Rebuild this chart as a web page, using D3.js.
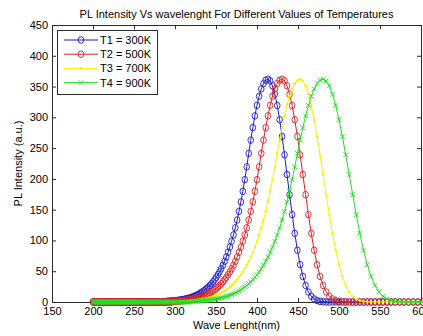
<!DOCTYPE html>
<html><head><meta charset="utf-8">
<script src="https://cdn.jsdelivr.net/npm/d3@7"></script>
<style>html,body{margin:0;padding:0;background:#fff;overflow:hidden}</style>
</head><body>
<svg id="chart" width="423" height="336"></svg>
<script>
// Sample wavelengths (nm), shared by all four series
const wavelengthNm = [
200.0,200.6,201.3,202.0,202.6,203.3,203.9,204.6,205.3,206.0,
206.7,207.4,208.1,208.8,209.5,210.2,210.9,211.6,212.3,213.1,
213.8,214.5,215.3,216.0,216.8,217.5,218.3,219.1,219.9,220.6,
221.4,222.2,223.0,223.8,224.6,225.5,226.3,227.1,227.9,228.8,
229.6,230.5,231.3,232.2,233.1,234.0,234.8,235.7,236.6,237.5,
238.5,239.4,240.3,241.2,242.2,243.1,244.1,245.1,246.0,247.0,
248.0,249.0,250.0,251.0,252.0,253.1,254.1,255.1,256.2,257.3,
258.3,259.4,260.5,261.6,262.7,263.8,265.0,266.1,267.2,268.4,
269.6,270.7,271.9,273.1,274.3,275.6,276.8,278.0,279.3,280.5,
281.8,283.1,284.4,285.7,287.0,288.4,289.7,291.1,292.5,293.8,
295.2,296.7,298.1,299.5,301.0,302.4,303.9,305.4,306.9,308.5,
310.0,311.6,313.1,314.7,316.3,317.9,319.6,321.2,322.9,324.6,
326.3,328.0,329.8,331.6,333.3,335.1,337.0,338.8,340.7,342.5,
344.4,346.4,348.3,350.3,352.3,354.3,356.3,358.4,360.5,362.6,
364.7,366.9,369.0,371.3,373.5,375.8,378.0,380.4,382.7,385.1,
387.5,389.9,392.4,394.9,397.4,400.0,402.6,405.2,407.9,410.6,
413.3,416.1,418.9,421.8,424.7,427.6,430.6,433.6,436.6,439.7,
442.9,446.0,449.3,452.6,455.9,459.3,462.7,466.2,469.7,473.3,
476.9,480.6,484.4,488.2,492.1,496.0,500.0,504.1,508.2,512.4,
516.7,521.0,525.4,529.9,534.5,539.1,543.9,548.7,553.6,558.6,
563.6,568.8,574.1,579.4,584.9,590.5,596.2,601.9];

// T1 = 300K
const t1Intensity = [
0,0,0,0,0,0,0,0,0,0, 0,0,0,0,0,0,0,0,0,0, 0,0,0,0,0,0,0,0,0,0,
0,0,0,0,0,0,0,0,0,0, 0,0,0,0,0,0,0,0,0,0, 0,0,0,0,0,0,0,0,0,0,
0,0,0,0,0,0,0,0,0,0, 0,0,0,0,0,0,0,0,0,0, 0,0,0,0,0,0,0,0,0,0,
0,0,0,0,0,0,
1.0,1.1,1.2,1.3,1.5,1.6,1.8,2.0,2.2,2.4,2.7,3.0,3.3,3.6,4.0,4.4,4.9,5.4,6.0,6.6,
7.3,8.1,9.0,9.9,10.9,12.1,13.4,14.8,16.3,18.0,19.9,22.0,24.3,26.9,29.7,32.8,36.3,40.1,44.3,49.0,
54.1,59.8,66.1,73.1,80.8,89.3,98.7,109.0,120.5,133.2,147.2,162.7,179.8,198.7,219.6,241.4,262.9,283.3,302.4,319.5,
334.2,346.1,354.8,360.2,362.0,359.3,351.1,337.6,319.1,296.1,269.1,239.1,207.1,174.3,142.0,
111.5,84.1,60.6,41.5,26.9,16.3,9.3,4.9,2.3,1.0,0.4,0.1,
0,0,0,0,0,0,0,0,0,0, 0,0,0,0,0,0,0,0,0,0, 0,0,0,0,0];

// T2 = 500K
const t2Intensity = [
0,0,0,0,0,0,0,0,0,0, 0,0,0,0,0,0,0,0,0,0, 0,0,0,0,0,0,0,0,0,0,
0,0,0,0,0,0,0,0,0,0, 0,0,0,0,0,0,0,0,0,0, 0,0,0,0,0,0,0,0,0,0,
0,0,0,0,0,0,0,0,0,0, 0,0,0,0,0,0,0,0,0,0, 0,0,0,0,0,0,0,0,0,0,
0,0,0,0,0,0,0,0,0,0, 0,0,
1.0,1.1,1.2,1.3,1.5,1.6,1.8,2.0,2.2,2.4,2.7,3.0,3.3,3.6,4.0,4.4,4.9,5.4,6.0,6.6,
7.3,8.1,9.0,9.9,10.9,12.1,13.4,14.8,16.3,18.0,19.9,22.0,24.3,26.9,29.7,32.8,36.3,40.1,44.3,49.0,
54.1,59.8,66.1,73.1,80.8,89.3,98.7,109.0,120.5,133.2,147.2,162.7,179.8,198.7,219.6,241.4,262.9,283.3,302.4,319.5,
334.2,346.1,354.8,360.2,362.0,359.3,351.1,337.6,319.1,296.1,269.1,239.1,207.1,174.3,142.0,
111.5,84.1,60.6,41.5,26.9,16.3,9.3,4.9,2.3,1.0,0.4,0.1,
0,0,0,0,0,0,0,0,0,0, 0,0,0,0,0,0,0,0,0];

// T3 = 700K
const t3Intensity = [
0,0,0,0,0,0,0,0,0,0, 0,0,0,0,0,0,0,0,0,0, 0,0,0,0,0,0,0,0,0,0,
0,0,0,0,0,0,0,0,0,0, 0,0,0,0,0,0,0,0,0,0, 0,0,0,0,0,0,0,0,0,0,
0,0,0,0,0,0,0,0,0,0, 0,0,0,0,0,0,0,0,0,0, 0,0,0,0,0,0,0,0,0,0,
0,0,0,0,0,0,0,0,0,0, 0,0,0,0,0,0,0,0,0,
1.0,1.1,1.2,1.3,1.5,1.6,1.8,2.0,2.2,2.4,2.7,3.0,3.3,3.6,4.0,4.4,4.9,5.4,6.0,6.6,
7.3,8.1,9.0,9.9,10.9,12.1,13.4,14.8,16.3,18.0,19.9,22.0,24.3,26.9,29.7,32.8,36.3,40.1,44.3,49.0,
54.1,59.8,66.1,73.1,80.8,89.3,98.7,109.0,120.5,133.2,147.2,162.7,179.8,198.7,219.6,241.4,262.9,283.3,302.4,319.5,
334.2,346.1,354.8,360.2,362.0,359.3,351.1,337.6,319.1,296.1,269.1,239.1,207.1,174.3,142.0,
111.5,84.1,60.6,41.5,26.9,16.3,9.3,4.9,2.3,1.0,0.4,0.1,
0,0,0,0,0,0,0,0,0,0, 0,0];

// T4 = 900K
const t4Intensity = [
0,0,0,0,0,0,0,0,0,0, 0,0,0,0,0,0,0,0,0,0, 0,0,0,0,0,0,0,0,0,0,
0,0,0,0,0,0,0,0,0,0, 0,0,0,0,0,0,0,0,0,0, 0,0,0,0,0,0,0,0,0,0,
0,0,0,0,0,0,0,0,0,0, 0,0,0,0,0,0,0,0,0,0, 0,0,0,0,0,0,0,0,0,0,
0,0,0,0,0,0,0,0,0,0, 0,0,0,0,0,0,0,0,0,0, 0,0,0,0,0,0,0,
1.0,1.1,1.2,1.3,1.5,1.6,1.8,2.0,2.2,2.4,2.7,3.0,3.3,3.6,4.0,4.4,4.9,5.4,6.0,6.6,
7.3,8.1,9.0,9.9,10.9,12.1,13.4,14.8,16.3,18.0,19.9,22.0,24.3,26.9,29.7,32.8,36.3,40.1,44.3,49.0,
54.1,59.8,66.1,73.1,80.8,89.3,98.7,109.0,120.5,133.2,147.2,162.7,179.8,198.7,219.6,241.4,262.9,283.3,302.4,319.5,
334.2,346.1,354.8,360.2,362.0,359.3,351.1,337.6,319.1,296.1,269.1,239.1,207.1,174.3,142.0,
111.5,84.1,60.6,41.5,26.9,16.3,9.3,4.9,2.3,1.0,0.4,0.1,
0,0,0,0];

const seriesNames = ["T1 = 300K", "T2 = 500K", "T3 = 700K", "T4 = 900K"];
const xTickValues = [150, 200, 250, 300, 350, 400, 450, 500, 550, 600];
const yTickValues = [0, 50, 100, 150, 200, 250, 300, 350, 400, 450];
const titleText = "PL Intensity Vs wavelenght For Different Values of Temperatures";
const xLabelText = "Wave Lenght(nm)";
const yLabelText = "PL Intensity (a.u.)";

// ---- styles ----
const seriesColors = ["#1c1cc0", "#dd2222", "#f4f400", "#22dd22"];
const seriesMarkers = ["circle", "circle", "dot", "cross"];
const font = "'Liberation Sans', Arial, Helvetica, sans-serif";
const axisColor = "#2a2a2a";

const box = {left: 52, right: 421, top: 25, bottom: 302};
const x = d3.scaleLinear().domain([150, 600]).range([box.left, box.right]);
const y = d3.scaleLinear().domain([0, 450]).range([box.bottom, box.top]);

const svg = d3.select("#chart");
svg.append("rect").attr("width", 423).attr("height", 336).attr("fill", "#fff");

function styleAxis(g) {
  g.select(".domain").remove();
  g.selectAll(".tick line").attr("stroke", axisColor).attr("stroke-width", 1);
  g.selectAll(".tick text").attr("fill", "#000").style("font-family", font).style("font-size", "11px");
}

svg.append("g").attr("transform", `translate(0,${box.bottom})`)
  .call(d3.axisBottom(x).tickValues(xTickValues).tickSize(-4).tickPadding(5).tickFormat(d3.format("d")))
  .call(styleAxis);
svg.append("g").attr("transform", `translate(0,${box.top})`)
  .call(d3.axisTop(x).tickValues(xTickValues).tickSize(-4).tickFormat(""))
  .call(styleAxis);
svg.append("g").attr("transform", `translate(${box.left},0)`)
  .call(d3.axisLeft(y).tickValues(yTickValues).tickSize(-4).tickPadding(4).tickFormat(d3.format("d")))
  .call(styleAxis);
svg.append("g").attr("transform", `translate(${box.right},0)`)
  .call(d3.axisRight(y).tickValues(yTickValues).tickSize(-4).tickFormat(""))
  .call(styleAxis);

svg.append("rect")
  .attr("x", box.left + 0.5).attr("y", box.top + 0.5)
  .attr("width", box.right - box.left).attr("height", box.bottom - box.top)
  .attr("fill", "none").attr("stroke", axisColor).attr("stroke-width", 1);

const allSeries = [t1Intensity, t2Intensity, t3Intensity, t4Intensity].map((vals, i) => ({
  name: seriesNames[i], color: seriesColors[i], marker: seriesMarkers[i],
  points: wavelengthNm.map((w, j) => [w, vals[j]])
}));

const line = d3.line().x(d => x(d[0])).y(d => y(d[1]));

function drawMarker(sel, type, color) {
  if (type === "circle") {
    sel.append("ellipse").attr("rx", 2.8).attr("ry", 3.3)
      .attr("fill", "none").attr("stroke", color).attr("stroke-width", 0.9);
  } else if (type === "dot") {
    sel.append("circle").attr("r", 1.3).attr("fill", color);
  } else {
    sel.append("path").attr("d", "M-2.4,-2.4L2.4,2.4M-2.4,2.4L2.4,-2.4")
      .attr("stroke", color).attr("stroke-width", 0.9).attr("fill", "none");
  }
}

allSeries.forEach(s => {
  const g = svg.append("g");
  g.append("path").datum(s.points).attr("d", line)
    .attr("fill", "none").attr("stroke", s.color).attr("stroke-width", 1);
  const mk = g.selectAll("g.mk").data(s.points).join("g").attr("class", "mk")
    .attr("transform", d => `translate(${x(d[0])},${y(d[1])})`);
  drawMarker(mk, s.marker, s.color);
});

// Title and labels
svg.append("text").attr("x", (box.left + box.right) / 2).attr("y", 18)
  .attr("text-anchor", "middle").style("font-family", font).style("font-size", "11px")
  .text(titleText);
svg.append("text").attr("x", (box.left + box.right) / 2).attr("y", 329)
  .attr("text-anchor", "middle").style("font-family", font).style("font-size", "11px")
  .text(xLabelText);
svg.append("text").attr("transform", `translate(22,${(box.top + box.bottom) / 2}) rotate(-90)`)
  .attr("text-anchor", "middle").style("font-family", font).style("font-size", "11px")
  .text(yLabelText);

// Legend
const lg = svg.append("g");
lg.append("rect").attr("x", 57.5).attr("y", 30.5).attr("width", 100).attr("height", 64)
  .attr("fill", "#fff").attr("stroke", axisColor).attr("stroke-width", 1);
allSeries.forEach((s, i) => {
  const yy = 40 + i * 14.2;
  lg.append("line").attr("x1", 64).attr("x2", 98).attr("y1", yy).attr("y2", yy)
    .attr("stroke", s.color).attr("stroke-width", 1);
  const mg = lg.append("g").attr("transform", `translate(81,${yy})`);
  drawMarker(mg, s.marker, s.color);
  lg.append("text").attr("x", 100).attr("y", yy + 4)
    .style("font-family", font).style("font-size", "11px").text(s.name);
});
</script>
</body></html>
